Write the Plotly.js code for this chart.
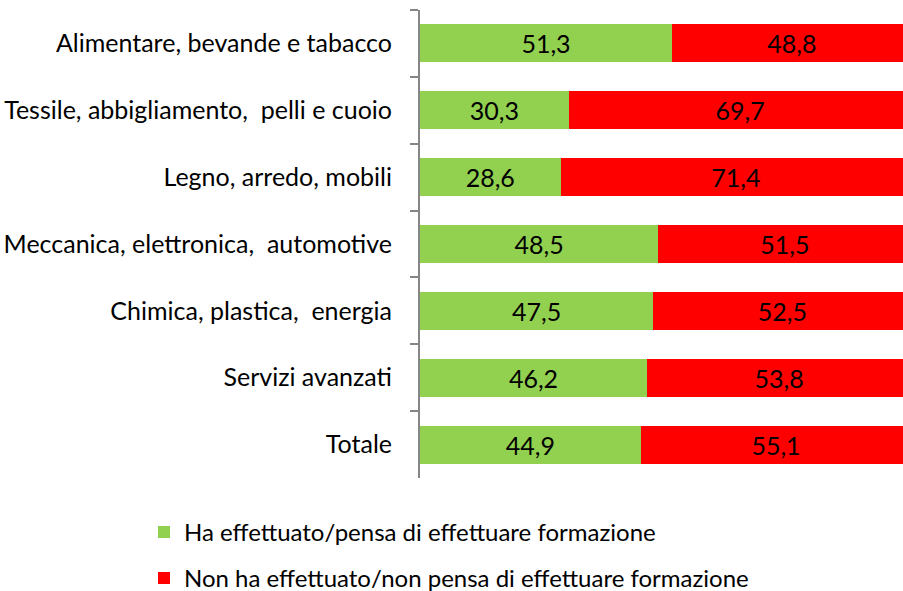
<!DOCTYPE html>
<html>
<head>
<meta charset="utf-8">
<script src="https://cdn.plot.ly/plotly-3.0.1.min.js"></script>
<style>html,body{margin:0;padding:0;background:#fff;}#chart{width:903px;height:591px;}</style>
</head>
<body>
<div id="chart"></div>
<script>
const categories = [
  "Alimentare, bevande e tabacco",
  "Tessile, abbigliamento,  pelli e cuoio",
  "Legno, arredo, mobili",
  "Meccanica, elettronica,  automotive",
  "Chimica, plastica,  energia",
  "Servizi avanzati",
  "Totale"
];
const seriesNames = [
  "Ha effettuato/pensa di effettuare formazione",
  "Non ha effettuato/non pensa di effettuare formazione"
];
const greenValues = [51.3, 30.3, 28.6, 48.5, 47.5, 46.2, 44.9];
const redValues = [48.8, 69.7, 71.4, 51.5, 52.5, 53.8, 55.1];

const FONT = "Lato, Carlito, 'Liberation Sans', sans-serif";
const FS = 25;

const traces = [
  {
    type: 'bar', orientation: 'h', name: seriesNames[0], legendgroup: 'a',
    y: categories, x: greenValues,
    marker: {color: '#92D050'},
    texttemplate: '%{x:.1f}', textposition: 'inside', insidetextanchor: 'middle', textangle: 0,
    textfont: {color: '#000', size: FS, family: FONT},
    hoverinfo: 'skip'
  },
  {
    type: 'bar', orientation: 'h', name: seriesNames[1], legendgroup: 'b',
    y: categories, x: redValues,
    marker: {color: '#FF0000'},
    texttemplate: '%{x:.1f}', textposition: 'inside', insidetextanchor: 'middle', textangle: 0,
    textfont: {color: '#000', size: FS, family: FONT},
    hoverinfo: 'skip'
  }
];

const layout = {
  width: 903, height: 591,
  margin: {l: 420, r: 0, t: 10, b: 113, autoexpand: false},
  paper_bgcolor: '#fff', plot_bgcolor: '#fff',
  barmode: 'stack', bargap: 0.43,
  separators: ',.',
  font: {family: FONT, size: FS, color: '#000'},
  showlegend: true,
  legend: {
    orientation: 'v', x: (144 - 420) / 483, xanchor: 'left', y: -0.068, yanchor: 'top',
    traceorder: 'grouped', tracegroupgap: 12,
    font: {family: FONT, size: 24, color: '#000'}
  },
  xaxis: {
    range: [0, 98.3], showgrid: false, zeroline: false, showline: false,
    showticklabels: false, ticks: '', automargin: false
  },
  yaxis: {
    type: 'category', categoryorder: 'array', categoryarray: categories,
    autorange: 'reversed', showgrid: false, zeroline: false, automargin: false,
    showline: true, linecolor: '#868686', linewidth: 2,
    ticks: 'outside', tickson: 'boundaries', ticklen: 8, tickcolor: '#868686', tickwidth: 2,
    ticklabelstandoff: 21,
    tickfont: {family: FONT, size: FS, color: '#000'}
  }
};

Plotly.newPlot('chart', traces, layout, {staticPlot: true, displayModeBar: false});
</script>
</body>
</html>
